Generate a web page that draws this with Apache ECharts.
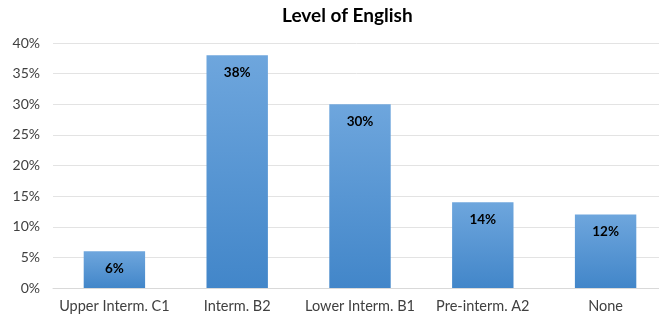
<!DOCTYPE html>
<html>
<head>
<meta charset="utf-8">
<script src="https://cdn.jsdelivr.net/npm/echarts@6/dist/echarts.min.js"></script>
<style>
  html, body { margin: 0; padding: 0; background: #fff; }
  #chart { width: 659px; height: 319px; }
</style>
</head>
<body>
<div id="chart"></div>
<script>
const categories = ['Upper Interm. C1', 'Interm. B2', 'Lower Interm. B1', 'Pre-interm. A2', 'None']
const shares = [6, 38, 30, 14, 12]
const yTicks = [0, 5, 10, 15, 20, 25, 30, 35, 40]

const chart = echarts.init(document.getElementById('chart'))

chart.setOption({
  backgroundColor: '#fff',
  animation: false,
  textStyle: { fontFamily: 'Lato, "Open Sans", sans-serif' },
  title: {
    text: 'Level of English',
    left: 277,
    top: 1,
    textStyle: { fontSize: 19, fontWeight: 'bold', color: '#000', fontFamily: 'Lato, sans-serif' }
  },
  // plot area runs past the right edge of the (cropped) picture
  grid: { left: 53, right: -8, top: 43, bottom: 31, outerBoundsMode: 'none' },
  xAxis: {
    type: 'category',
    data: categories,
    axisLine: { lineStyle: { color: '#d9d9d9' } },
    axisTick: { show: false },
    axisLabel: { color: '#404040', fontSize: 14.5, margin: 11, interval: 0 }
  },
  yAxis: {
    type: 'value',
    min: yTicks[0],
    max: yTicks[yTicks.length - 1],
    interval: 5,
    axisLine: { show: false },
    axisTick: { show: false },
    axisLabel: { color: '#404040', fontSize: 14, margin: 13, formatter: '{value}%' },
    splitLine: { lineStyle: { color: '#e3e3e3' } }
  },
  series: [{
    type: 'bar',
    data: shares,
    barWidth: '50%',
    itemStyle: {
      color: new echarts.graphic.LinearGradient(0, 0, 0, 1, [
        { offset: 0, color: '#6ea6dd' },
        { offset: 1, color: '#4286c9' }
      ])
    },
    label: {
      show: true,
      position: 'insideTop',
      distance: 10,
      formatter: '{c}%',
      color: '#000',
      fontWeight: 'bold',
      fontSize: 13.5
    }
  }]
})
</script>
</body>
</html>
